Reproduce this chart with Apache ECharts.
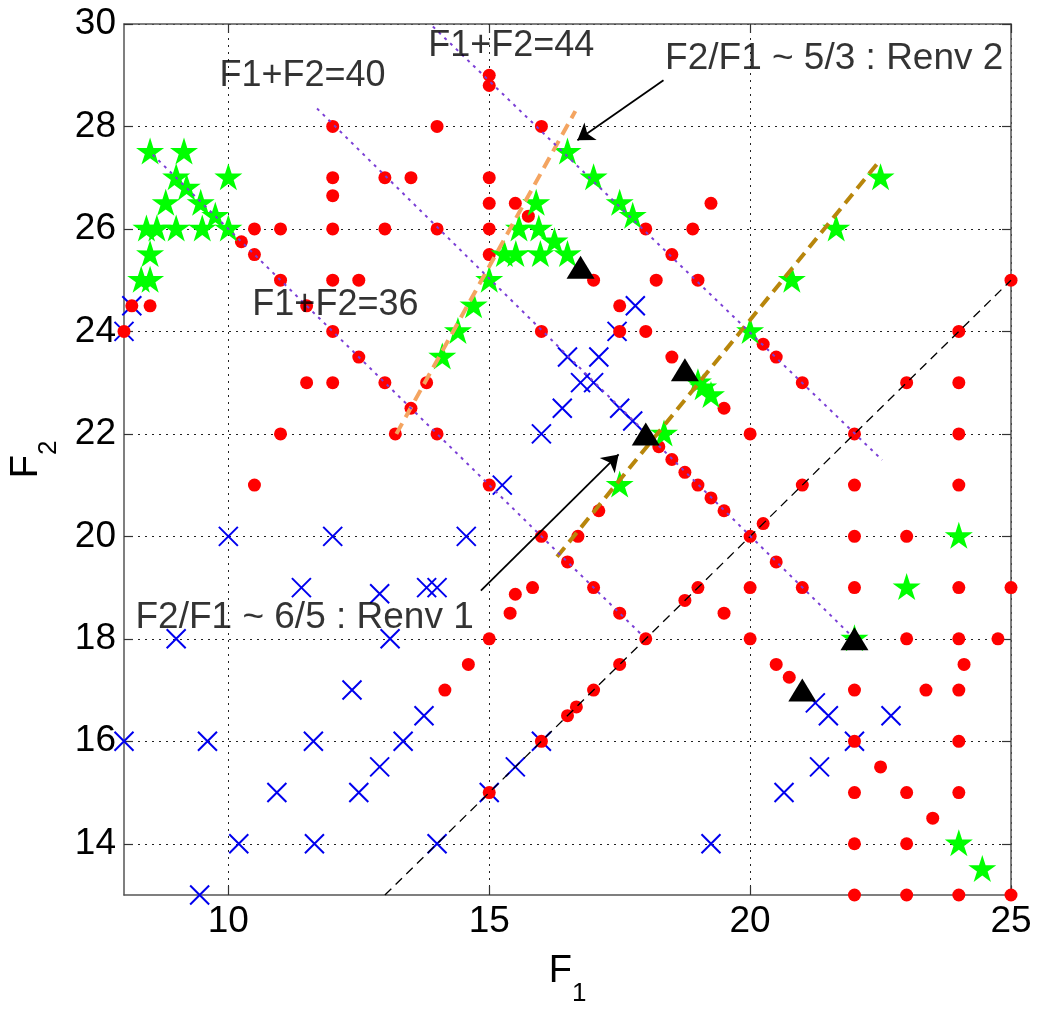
<!DOCTYPE html>
<html>
<head>
<meta charset="utf-8">
<script src="https://cdn.jsdelivr.net/npm/echarts@6/dist/echarts.min.js"></script>
<style>html,body{margin:0;padding:0;background:#fff;}#c{width:1037px;height:1012px;}</style>
</head>
<body>
<div id="c"></div>
<script>
// ---- data ----
const xTicks = [10, 15, 20, 25];
const yTicks = [14, 16, 18, 20, 22, 24, 26, 28, 30];

const redPts = [
  [12,28],[12,27],[12,26.65],[12,26],[10.5,26],[11,26],[10.25,25.75],[10.5,25.5],[11,25],[12,25],[11.5,24.5],[8.15,24.5],[8.5,24.5],[8,24],
  [15,29],[15,28.8],[14,28],[16,28],[13,27],[13.5,27],[15,27],[15,26.5],[15.5,26.5],[15.75,26.25],[13,26],[14,26],[15,26],[15,25.5],[12.5,25],
  [19.25,26.5],[18,26],[18.9,26],[18.5,25.5],[17,25],[18.2,25],[19,25],[17.5,24.5],[25,25],
  [12,24],[11.5,23],[12,23],[11,22],[10.5,21],
  [16,24],[12.5,23.5],[13,23],[13.8,23],[13.5,22.5],[13.2,22],[14,22],[15,21],[16,20],[15.5,18.87],[15.83,19],
  [17.5,24],[18,24],[18.5,23.5],[19.5,22.5],[20,22],[20.25,23.75],[20.5,23.5],[18.25,21.75],[18.5,21.5],[18.75,21.25],[19,21],[19.25,20.75],[19.5,20.5],[20,20],[20.25,20.25],[20.5,19.5],[17.1,20.5],[16.7,20],[16.5,19.5],[17,19],[19,19],[20,19],[18.75,18.75],
  [24,24],[21,23],[23,23],[24,23],[22,22],[24,22],[21,21],[22,21],[24,21],[22,20],[23,20],[21,19],[22,19],[24,19],[25,19],
  [15.4,18.5],[15,18],[14.6,17.5],[14.15,17],[15,15],[16,16],[16.5,16.5],[16.67,16.67],
  [19.5,18.5],[20,18],[17.5,18.5],[18,18],[17.5,17.5],[17,17],[20.5,17.5],[20.75,17.25],
  [23,18],[24,18],[24.75,18],[24.1,17.5],[22,17],[23.37,17],[24,17],[22,16],[24,16],[22.5,15.5],[22,15],[23,15],[24,15],[23.5,14.5],[22,14],[23,14],[22,13],[23,13],[24,13],[25,13]
];

const bluePts = [
  [8.15,24.5],[8,24],[17.8,24.5],[17.45,24],[16.5,23.5],[17.1,23.5],[16.75,23],[17,23],[16.4,22.5],[17.5,22.5],[17.75,22.25],[16,22],[15.25,21],
  [14.56,20],[10,20],[12,20],[11.4,19],[12.9,18.88],[13.8,19],[14,19],[9,18],[13.1,18],[12.37,17],[13.75,16.5],[13.35,16],[12.9,15.5],[12.5,15],
  [15,15],[15.5,15.5],[16,16],[14,14],[8,16],[9.6,16],[11.63,16],[10.93,15],[10.2,14],[11.65,14],[9.45,13],
  [19.25,14],[20.65,15],[21.33,15.5],[21.25,16.75],[21.5,16.5],[22.7,16.5],[22,16]
];

const greenPts = [
  [8.5,27.5],[9.15,27.5],[9,27],[10,27],[9.2,26.8],[8.8,26.5],[9.47,26.5],[9.75,26.25],[10,26],[9.5,26],[9,26],[8.63,26],[8.43,26],[8.5,25.5],[8.33,25],[8.5,25],
  [16.5,27.5],[15.9,26.5],[15.57,26],[15.95,26],[16.25,25.75],[15.29,25.5],[15.51,25.5],[15.98,25.5],[16.5,25.5],[15,25],[14.7,24.5],[14.4,24],[14.1,23.5],
  [17,27],[17.5,26.5],[17.75,26.25],[22.5,27],[21.65,26],[20.8,25],
  [20,24],[19,23],[19.1,22.9],[19.25,22.75],[18.35,22],[17.5,21],
  [24,20],[23,19],[22,18],[24,14],[24.45,13.5]
];

const blackPts = [[16.75,25.25],[18.75,23.25],[18,22],[22,18],[21,17]];

const lineDiag = [[13,13],[25,25]];
const lineRenv2 = [[13.22,22],[16.65,28.3]];
const lineRenv1 = [[16.3,19.6],[22.5,27.35]];
const lineSum36 = [[8.55,27.45],[17.9,18.1]];
const lineSum40 = [[11.7,28.35],[22,18]];
const lineSum44 = [[13.92,29.95],[22.53,21.49]];

const arrow1 = [[18.34,28.9],[16.69,27.73]];
const arrow2 = [[14.84,18.94],[17.48,21.6]];

const labelTexts = ['F1+F2=40','F1+F2=44','F2/F1 ~ 5/3 : Renv 2','F1+F2=36','F2/F1 ~ 6/5 : Renv 1'];
const labelPos = [[9.83,28.98],[13.83,29.57],[18.37,29.32],[10.46,24.52],[8.22,18.42]];
const labelSizes = [36,36,37,36,37];

// ---- chart ----
const FONT = '"Liberation Sans", Arial, sans-serif';
const STAR = 'path://M50,0 L61.17,34.63 L97.55,34.55 L68.07,55.87 L79.39,90.45 L50,69 L20.61,90.45 L31.93,55.87 L2.45,34.55 L38.83,34.63 Z';
const CROSS = 'path://M0,0L20,20M20,0L0,20';

const chart = echarts.init(document.getElementById('c'), null, {renderer: 'canvas'});

function lineSeries(data, color, width, type) {
  return {type: 'line', data: data, showSymbol: false, symbol: 'none', silent: true,
    lineStyle: {color: color, width: width, type: type}, z: 4};
}

const axisCommon = {
  axisLine: {show: true, onZero: false, lineStyle: {color: '#555', width: 1.5}},
  axisTick: {show: true, inside: true, length: 9, lineStyle: {color: '#333', width: 1.2}},
};

chart.setOption({
  animation: false,
  backgroundColor: '#fff',
  textStyle: {fontFamily: FONT},
  grid: {left: 119, right: 26, top: 24, bottom: 95, containLabel: false, show: false},
  xAxis: [
    Object.assign({}, axisCommon, {
      type: 'value', min: 8, max: 25, position: 'bottom',
      axisTick: Object.assign({}, axisCommon.axisTick, {customValues: xTicks}),
      axisLabel: {customValues: xTicks, fontSize: 37, color: '#000', margin: 8, fontFamily: FONT},
      splitLine: {show: true, lineStyle: {color: '#222', width: 1, type: [2, 5]}},
      name: '{a|F}{b|1}', nameLocation: 'middle', nameGap: 58,
      nameTextStyle: {rich: {
        a: {fontSize: 38, fontFamily: FONT, color: '#000', lineHeight: 38, verticalAlign: 'top'},
        b: {fontSize: 26, fontFamily: FONT, color: '#000', lineHeight: 54, verticalAlign: 'bottom'}
      }}
    }),
    Object.assign({}, axisCommon, {
      type: 'value', min: 8, max: 25, position: 'top',
      axisTick: Object.assign({}, axisCommon.axisTick, {customValues: xTicks}),
      axisLabel: {show: false}, splitLine: {show: false}
    })
  ],
  yAxis: [
    Object.assign({}, axisCommon, {
      type: 'value', min: 13, max: 30, position: 'left',
      axisTick: Object.assign({}, axisCommon.axisTick, {customValues: yTicks}),
      axisLabel: {customValues: yTicks, fontSize: 37, color: '#000', margin: 8, fontFamily: FONT},
      splitLine: {show: true, lineStyle: {color: '#222', width: 1, type: [2, 5]}},
      name: '{a|F}{b|2}', nameLocation: 'middle', nameGap: 62, nameRotate: 90,
      nameTextStyle: {rich: {
        a: {fontSize: 38, fontFamily: FONT, color: '#000', lineHeight: 38, verticalAlign: 'top'},
        b: {fontSize: 26, fontFamily: FONT, color: '#000', lineHeight: 54, verticalAlign: 'bottom'}
      }}
    }),
    Object.assign({}, axisCommon, {
      type: 'value', min: 13, max: 30, position: 'right',
      axisTick: Object.assign({}, axisCommon.axisTick, {customValues: yTicks}),
      axisLabel: {show: false}, splitLine: {show: false}
    })
  ],
  series: [
    {type: 'scatter', data: bluePts, symbol: CROSS, symbolSize: 19, z: 2,
      itemStyle: {color: 'rgba(0,0,0,0)', borderColor: '#0000ee', borderWidth: 2, opacity: 1}},
    {type: 'scatter', data: redPts, symbol: 'circle', symbolSize: 13, z: 3,
      itemStyle: {color: '#ff0000', opacity: 1}},
    {type: 'scatter', data: greenPts, symbol: STAR, symbolSize: [28, 27], symbolOffset: [0, -1], z: 3,
      itemStyle: {color: '#00ff00', opacity: 1}},
    lineSeries(lineDiag, '#000', 1.3, [9, 6]),
    lineSeries(lineRenv2, '#f4a460', 4, [12, 7]),
    lineSeries(lineRenv1, '#b8860b', 4, [12, 7]),
    lineSeries(lineSum36, '#7b3fd6', 2, [3, 5]),
    lineSeries(lineSum40, '#7b3fd6', 2, [3, 5]),
    lineSeries(lineSum44, '#7b3fd6', 2, [3, 5]),
    {type: 'scatter', data: blackPts, symbol: 'triangle', symbolSize: [28, 23], z: 6,
      itemStyle: {color: '#000', opacity: 1}},
    {type: 'lines', coordinateSystem: 'cartesian2d', polyline: false, z: 7,
      symbol: ['none', 'arrow'], symbolSize: 16,
      lineStyle: {color: '#000', width: 1.8, opacity: 1},
      data: [{coords: arrow1}, {coords: arrow2}]},
    {type: 'scatter', symbolSize: 0, z: 8, silent: true,
      data: labelTexts.map((t, i) => ({name: t, value: labelPos[i],
        label: {show: true, position: 'right', distance: 0, formatter: t,
          fontSize: labelSizes[i], color: '#000', fontFamily: FONT}}))}
  ]
});
</script>
</body>
</html>
